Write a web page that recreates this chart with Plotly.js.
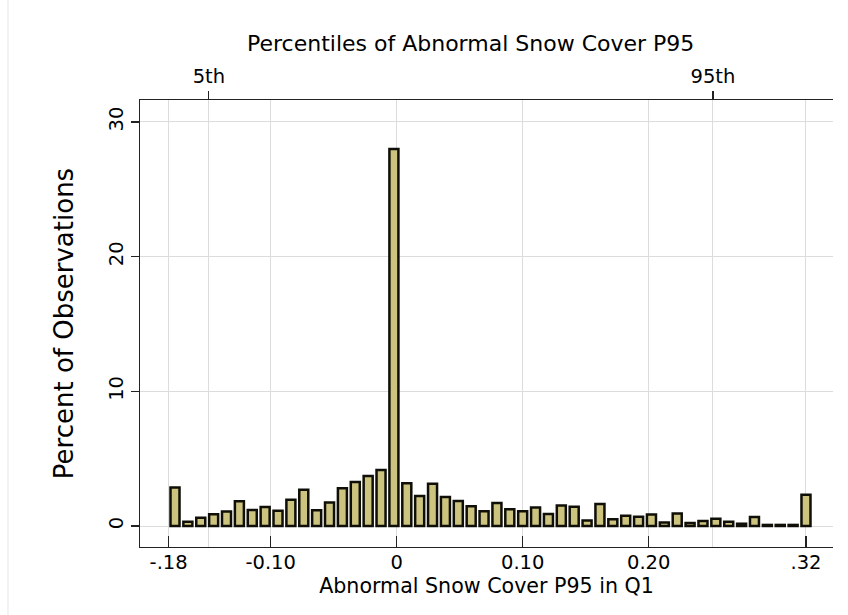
<!DOCTYPE html>
<html>
<head>
<meta charset="utf-8">
<script src="https://cdn.plot.ly/plotly-3.0.1.min.js"></script>
<style>html,body{margin:0;padding:0;background:#fff;}#chart{width:848px;height:615px;}</style>
</head>
<body>
<div id="chart"></div>
<script>
// Histogram: percent of observations per bin (50 bins)
const binStartCenter = -0.17595;   // centre of first bin
const binWidth = 0.01022;
const percentValues = [
  2.85, 0.32, 0.62, 0.87, 1.07, 1.83, 1.19, 1.41, 1.14, 1.95,
  2.70, 1.17, 1.74, 2.80, 3.27, 3.71, 4.16, 28.0, 3.17, 2.23,
  3.14, 2.15, 1.86, 1.46, 1.10, 1.71, 1.25, 1.10, 1.38, 0.90,
  1.52, 1.43, 0.40, 1.63, 0.50, 0.76, 0.68, 0.85, 0.26, 0.92,
  0.22, 0.37, 0.53, 0.31, 0.17, 0.66, 0.08, 0.08, 0.08, 2.32
];
const bottomTickVals = [-0.181, -0.10, 0, 0.10, 0.20, 0.3248];
const bottomTickText = ['-.18', '-0.10', '0', '0.10', '0.20', '.32'];
const topTickVals = [-0.1491, 0.2510];
const topTickText = ['5th', '95th'];
const yTickVals = [0, 10, 20, 30];
const yTickText = ['0', '10', '20', '30'];

const xRange = [-0.20373, 0.34627];
const font = 'DejaVu Sans, sans-serif';

const traces = [
  {
    type: 'bar',
    y: percentValues,
    x0: binStartCenter,
    dx: binWidth,
    marker: {color: 'rgb(204,195,126)', line: {color: 'rgb(15,15,8)', width: 2.5}},
    hoverinfo: 'skip',
    showlegend: false
  },
  {
    type: 'scatter', mode: 'markers',
    x: [topTickVals[0]], y: [null],
    xaxis: 'x2', yaxis: 'y',
    showlegend: false, hoverinfo: 'skip'
  }
];

const layout = {
  width: 848, height: 615,
  margin: {l: 140, r: 15, t: 100, b: 68},
  paper_bgcolor: '#ffffff', plot_bgcolor: '#ffffff',
  font: {family: font, color: '#000'},
  bargap: 0.3,
  showlegend: false,
  xaxis: {
    range: xRange,
    tickmode: 'array', tickvals: bottomTickVals, ticktext: bottomTickText,
    ticks: 'inside', ticklen: 11, tickwidth: 1.3, tickcolor: '#222',
    showline: true, linecolor: '#222', linewidth: 1.3,
    showgrid: true, gridcolor: '#dcdcdc', gridwidth: 1,
    zeroline: false,
    ticklabelstandoff: -3,
    tickfont: {family: font, size: 19.5, color: '#000'},
    title: {text: 'Abnormal Snow Cover P95 in Q1', font: {family: font, size: 20.6, color: '#000'}, standoff: 0},
    fixedrange: true
  },
  xaxis2: {
    overlaying: 'x', side: 'top', anchor: 'y',
    range: xRange,
    tickmode: 'array', tickvals: topTickVals, ticktext: topTickText,
    ticks: 'outside', ticklen: 8, tickwidth: 1.3, tickcolor: '#222',
    showline: true, linecolor: '#222', linewidth: 1.3,
    showgrid: true, gridcolor: '#dcdcdc', gridwidth: 1,
    zeroline: false,
    tickfont: {family: font, size: 19.5, color: '#000'},
    fixedrange: true
  },
  yaxis: {
    range: [-1.559, 31.63],
    tickmode: 'array', tickvals: yTickVals, ticktext: yTickText,
    tickangle: -90,
    ticks: 'outside', ticklen: 8, tickwidth: 1.3, tickcolor: '#222',
    showline: true, linecolor: '#222', linewidth: 1.3,
    showgrid: true, gridcolor: '#dcdcdc', gridwidth: 1,
    zeroline: false,
    tickfont: {family: font, size: 19.5, color: '#000'},
    title: {text: 'Percent of Observations', font: {family: font, size: 26, color: '#000'}, standoff: 23},
    fixedrange: true
  },
  annotations: [
    {text: 'Percentiles of Abnormal Snow Cover P95', xref: 'paper', yref: 'paper',
     x: 0.4769, y: 1.1275, xanchor: 'center', yanchor: 'middle', showarrow: false,
     font: {family: font, size: 22, color: '#000'}}
  ],
  shapes: [
    {type: 'line', xref: 'paper', yref: 'paper', x0: -0.1905, x1: -0.1905, y0: -0.2, y1: 1.3,
     line: {color: '#e6e6e6', width: 1}}
  ]
};

Plotly.newPlot('chart', traces, layout, {displayModeBar: false, staticPlot: true});
</script>
</body>
</html>
